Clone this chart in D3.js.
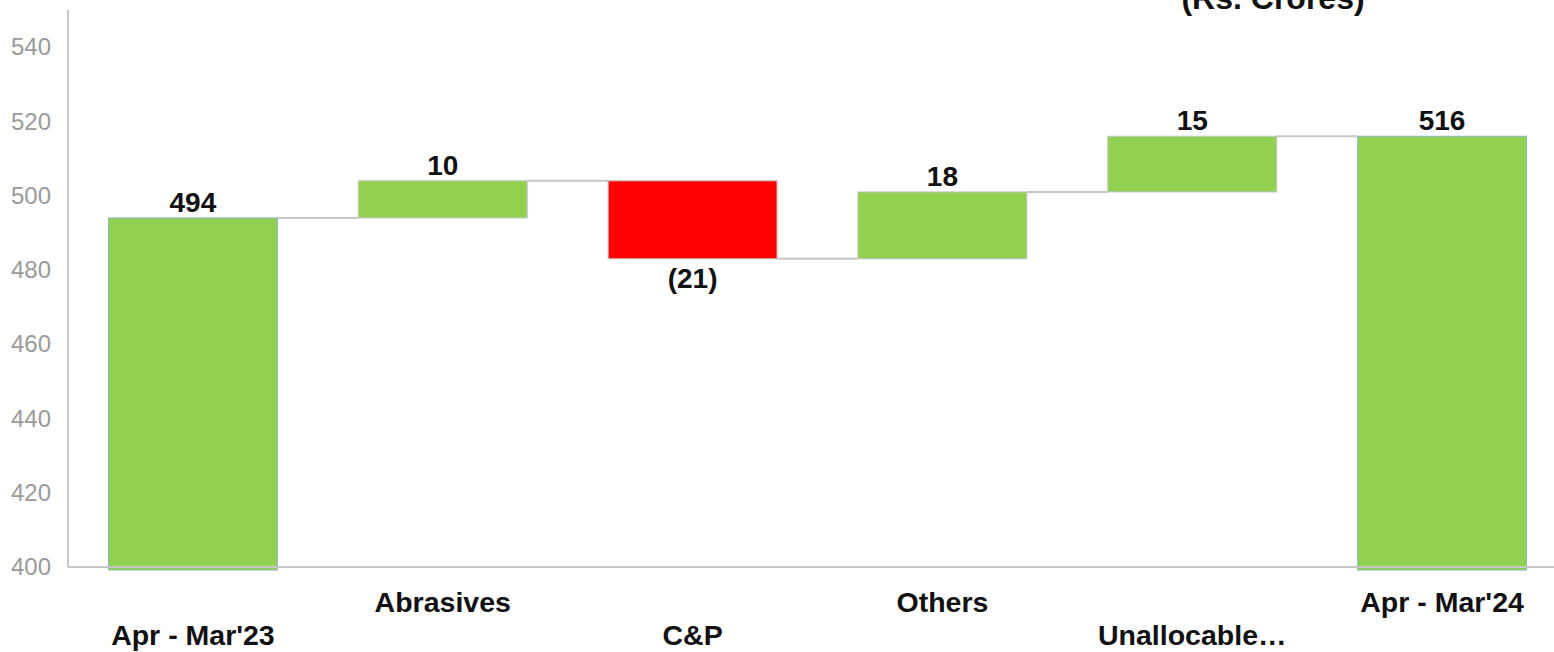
<!DOCTYPE html>
<html>
<head>
<meta charset="utf-8">
<script src="https://cdn.jsdelivr.net/npm/d3@7"></script>
<style>
  body { margin: 0; background: #fff; }
  svg { display: block; font-family: "Liberation Sans", Arial, sans-serif; }
</style>
</head>
<body>
<div id="chart"></div>
<script>
// Waterfall data (Rs. Crores)
const categories = ["Apr - Mar'23", "Abrasives", "C&P", "Others", "Unallocable\u2026", "Apr - Mar'24"];
const values = [494, 10, -21, 18, 15, 516];
const isTotal = [true, false, false, false, false, true];
const valueLabels = ["494", "10", "(21)", "18", "15", "516"];
const yTicks = [400, 420, 440, 460, 480, 500, 520, 540];

const width = 1554, height = 652;
const margin = { top: 10, left: 68, bottom: 85 };

const svg = d3.select("#chart").append("svg")
    .attr("width", width)
    .attr("height", height);

// Scales
const x = d3.scaleBand()
    .domain(categories)
    .range([margin.left, margin.left + 1499])
    .paddingInner(0.324)
    .paddingOuter(0.162);

const y = d3.scaleLinear()
    .domain([400, 550])
    .range([height - margin.bottom, margin.top]);

// Build the running totals for each bar
let running = 0;
const bars = categories.map((c, i) => {
    let start, end;
    if (isTotal[i]) {
        start = 400;
        end = values[i];
        running = values[i];
    } else {
        start = running;
        end = running + values[i];
        running = end;
    }
    return { cat: c, start, end, value: values[i], total: isTotal[i], label: valueLabels[i], level: running };
});

// Y axis (labels only, plus axis line)
const yAxis = svg.append("g")
    .attr("transform", `translate(${margin.left},0)`)
    .call(d3.axisLeft(y).tickValues(yTicks).tickSize(0).tickPadding(17));
yAxis.select(".domain").remove();
yAxis.selectAll("text")
    .attr("fill", "#9a9a9a")
    .style("font-size", "24px");

svg.append("line")
    .attr("x1", margin.left).attr("x2", margin.left)
    .attr("y1", margin.top).attr("y2", y(400))
    .attr("stroke", "#c6c6c6")
    .attr("stroke-width", 2);

// Bars
svg.selectAll(".bar")
    .data(bars)
    .enter().append("rect")
    .attr("class", "bar")
    .attr("x", d => x(d.cat))
    .attr("width", x.bandwidth())
    .attr("y", d => y(Math.max(d.start, d.end)))
    .attr("height", d => Math.abs(y(d.start) - y(d.end)) + (d.total ? 3 : 0))
    .attr("fill", d => d.value < 0 ? "#ff0000" : "#92d050")
    .attr("stroke", d => d.total ? "#86b9cc" : "#c4c4c4")
    .attr("stroke-width", 1);

// Horizontal axis line
svg.append("line")
    .attr("x1", margin.left).attr("x2", width)
    .attr("y1", y(400)).attr("y2", y(400))
    .attr("stroke", "#c6c6c6")
    .attr("stroke-width", 2);

// Connectors between bars
svg.selectAll(".connector")
    .data(bars.slice(0, -1))
    .enter().append("line")
    .attr("class", "connector")
    .attr("x1", d => x(d.cat) + x.bandwidth())
    .attr("x2", (d, i) => x(categories[i + 1]))
    .attr("y1", d => y(d.level))
    .attr("y2", d => y(d.level))
    .attr("stroke", "#c6c6c6")
    .attr("stroke-width", 2);

// Value labels
svg.selectAll(".value-label")
    .data(bars)
    .enter().append("text")
    .attr("class", "value-label")
    .attr("x", d => x(d.cat) + x.bandwidth() / 2)
    .attr("y", d => d.value < 0 ? y(Math.min(d.start, d.end)) + 29 : y(Math.max(d.start, d.end)) - 6)
    .attr("text-anchor", "middle")
    .style("font-size", "28px")
    .style("font-weight", "bold")
    .attr("fill", "#111")
    .text(d => d.label);

// Category labels, staggered
svg.selectAll(".cat-label")
    .data(categories)
    .enter().append("text")
    .attr("class", "cat-label")
    .attr("x", d => x(d) + x.bandwidth() / 2)
    .attr("y", (d, i) => i % 2 === 0 ? 645 : 612)
    .attr("text-anchor", "middle")
    .style("font-size", "28.5px")
    .style("font-weight", "bold")
    .attr("fill", "#111")
    .text(d => d);

// Unit note, cut at the top edge as in the source slide
svg.append("text")
    .attr("x", 1273)
    .attr("y", 9)
    .attr("text-anchor", "middle")
    .style("font-size", "32px")
    .style("font-weight", "bold")
    .attr("fill", "#111")
    .text("(Rs. Crores)");
</script>
</body>
</html>
